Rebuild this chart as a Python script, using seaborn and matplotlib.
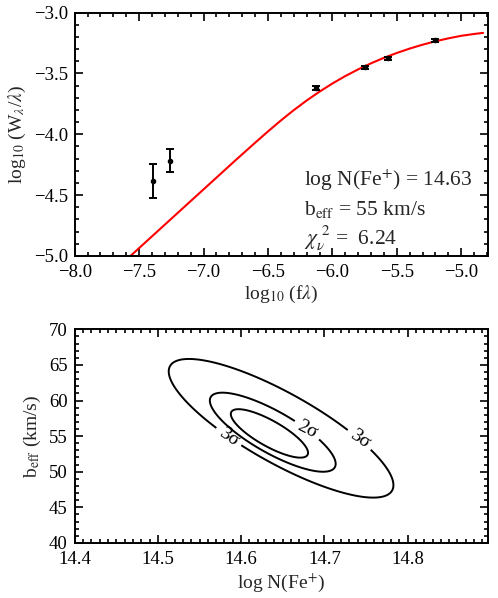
import numpy as np
import pandas as pd
import matplotlib
matplotlib.use('Agg')
import matplotlib.pyplot as plt
from matplotlib.ticker import MultipleLocator, AutoMinorLocator
import seaborn as sns

# measured lines: log10(f lambda), log10(W/lambda) and 1 sigma errors
log_flam = [-7.391, -7.259, -6.129, -5.744, -5.571, -5.207]
log_wlam = [-4.383, -4.217, -3.619, -3.449, -3.375, -3.227]
log_wlam_err = [0.140, 0.095, 0.015, 0.012, 0.012, 0.012]

# best fit curve of growth
cog_x = [-7.567, -7.25, -7.0, -6.75, -6.6, -6.5, -6.4, -6.3, -6.2, -6.1, -6.0,
         -5.9, -5.8, -5.7, -5.6, -5.5, -5.4, -5.3, -5.2, -5.1, -5.0, -4.9, -4.83]
cog_y = [-5.0, -4.694, -4.453, -4.212, -4.070, -3.977, -3.887, -3.802, -3.723,
         -3.650, -3.583, -3.522, -3.467, -3.417, -3.372, -3.332, -3.296, -3.264,
         -3.236, -3.212, -3.191, -3.176, -3.167]

fit_text = [r'log N(Fe$^{+}$) = 14.63',
            r'b$_{\mathrm{eff}}$ = 55 km/s',
            r'$\chi_{\nu}^{\ 2}$ =  6.24']

# confidence contours: centre logN, centre b, sigma logN, sigma b, correlation
conf_names = ['1sig', '2sig', '3sig']
conf_cx = [14.634, 14.638, 14.648]
conf_cy = [55.38, 55.55, 56.10]
conf_sx = [0.0464, 0.0756, 0.135]
conf_sy = [3.40, 5.55, 9.73]
conf_rho = [-0.80, -0.80, -0.82]
conf_label = [None, '2σ', '3σ']
conf_label_pos = [[], [(14.677, 55.5)], [(14.579, 53.9), (14.734, 53.4)]]
conf_label_rot = [[], [-27], [-35, -35]]

sns.set_theme(style='ticks')
plt.rcParams['font.family'] = ['Liberation Serif', 'DejaVu Serif']
plt.rcParams['mathtext.fontset'] = 'stix'
plt.rcParams['axes.linewidth'] = 1.4
plt.rcParams['axes.edgecolor'] = 'black'
plt.rcParams['xtick.color'] = 'black'
plt.rcParams['ytick.color'] = 'black'

fig = plt.figure(figsize=(4.98, 5.98), dpi=100)
ax1 = fig.add_axes([0.150, 0.572, 0.8305, 0.407])
ax2 = fig.add_axes([0.150, 0.092, 0.8305, 0.3574])

#top panel: curve of growth
cog = pd.DataFrame({'x': cog_x, 'y': cog_y})
sns.lineplot(data=cog, x='x', y='y', sort=False, color='red', lw=1.5, ax=ax1)
ax1.errorbar(log_flam, log_wlam, yerr=log_wlam_err, fmt='o', ms=3, color='black',
             ecolor='black', elinewidth=1.4, capsize=3, capthick=1.4)
ax1.set_xlim(-8.0, -4.79)
ax1.set_ylim(-5.0, -3.0)
ax1.xaxis.set_major_locator(MultipleLocator(0.5))
ax1.yaxis.set_major_locator(MultipleLocator(0.5))
ax1.xaxis.set_minor_locator(AutoMinorLocator(5))
ax1.yaxis.set_minor_locator(AutoMinorLocator(5))
ax1.set_xlabel(r'log$_{10}$ (f$\lambda$)', fontsize=14, labelpad=2)
ax1.set_ylabel(r'log$_{10}$ (W$_{\lambda}$/$\lambda$)', fontsize=14)
for s, yy in zip(fit_text, [-4.422, -4.663, -4.91]):
    ax1.text(-6.222, yy, s, fontsize=15.5, va='baseline', ha='left')

#bottom panel: chi2 confidence contours
gx = np.linspace(14.4, 14.9, 500)
gy = np.linspace(40, 70, 500)
GX, GY = np.meshgrid(gx, gy)
for cx, cy, sx, sy, rho, lab, pos, rot in zip(conf_cx, conf_cy, conf_sx, conf_sy,
                                              conf_rho, conf_label, conf_label_pos,
                                              conf_label_rot):
    u = (GX - cx) / sx
    v = (GY - cy) / sy
    q = (u**2 - 2 * rho * u * v + v**2) / (1 - rho**2)
    cs = ax2.contour(GX, GY, q, levels=[1.0], colors='black', linewidths=1.4)
    if lab is not None:
        txts = ax2.clabel(cs, fmt={1.0: lab}, inline=True, inline_spacing=5,
                          fontsize=14, manual=pos)
        for t, r in zip(txts, rot):
            t.set_rotation(r)
ax2.set_xlim(14.4, 14.897)
ax2.set_ylim(40, 70)
ax2.xaxis.set_major_locator(MultipleLocator(0.1))
ax2.yaxis.set_major_locator(MultipleLocator(5))
ax2.xaxis.set_minor_locator(AutoMinorLocator(10))
ax2.yaxis.set_minor_locator(AutoMinorLocator(5))
ax2.set_xlabel(r'log N(Fe$^{+}$)', fontsize=14, labelpad=2)
ax2.set_ylabel(r'b$_{\mathrm{eff}}$ (km/s)', fontsize=14)

for ax in (ax1, ax2):
    ax.tick_params(which='both', direction='in', top=True, right=True,
                   labelsize=13.5, width=1.2)
    ax.tick_params(which='major', length=6)
    ax.tick_params(which='minor', length=3)
    ax.tick_params(axis='x', which='major', pad=6)
    ax.tick_params(axis='y', which='major', pad=5)
    ax.grid(False)

fig.savefig('out.png', dpi=100)
